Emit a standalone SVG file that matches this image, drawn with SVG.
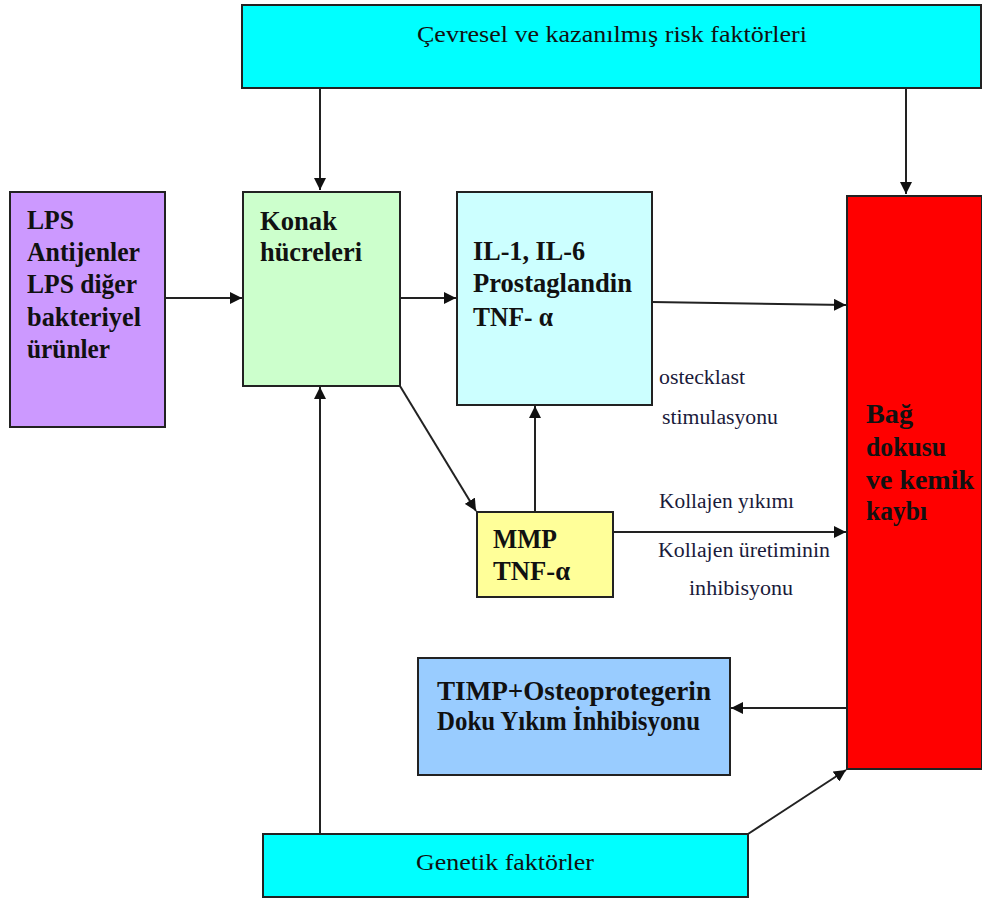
<svg xmlns="http://www.w3.org/2000/svg" width="982" height="899" viewBox="0 0 982 899">
<style>
.box{stroke:#222;stroke-width:2}
.b{font-family:"Liberation Serif","Times New Roman",serif;font-weight:bold;font-size:28px;fill:#111}
.n{font-family:"Liberation Serif","Times New Roman",serif;font-size:24px;fill:#111}
.s{font-family:"Liberation Serif","Times New Roman",serif;font-size:20px;fill:#1a1a3a}
.c{stroke:#222;stroke-width:2;fill:none}
</style>
<defs>
<marker id="ah" markerUnits="userSpaceOnUse" markerWidth="13" markerHeight="12" refX="12" refY="6" orient="auto">
<path d="M0,0 L12,6 L0,12 z" fill="#111"/>
</marker>
</defs>
<rect width="982" height="899" fill="#fff"/>

<g id="connectors">
<line class="c" x1="320" y1="88" x2="320" y2="190" marker-end="url(#ah)"/>
<line class="c" x1="906" y1="88" x2="906" y2="194" marker-end="url(#ah)"/>
<line class="c" x1="165" y1="298" x2="242" y2="298" marker-end="url(#ah)"/>
<line class="c" x1="400" y1="298" x2="456" y2="298" marker-end="url(#ah)"/>
<line class="c" x1="652" y1="302" x2="846" y2="305" marker-end="url(#ah)"/>
<line class="c" x1="400" y1="386" x2="476" y2="511" marker-end="url(#ah)"/>
<line class="c" x1="535" y1="512" x2="535" y2="406" marker-end="url(#ah)"/>
<line class="c" x1="613" y1="532" x2="846" y2="532" marker-end="url(#ah)"/>
<line class="c" x1="846" y1="708" x2="731" y2="708" marker-end="url(#ah)"/>
<line class="c" x1="320" y1="834" x2="320" y2="387" marker-end="url(#ah)"/>
<line class="c" x1="748" y1="834" x2="846" y2="770" marker-end="url(#ah)"/>
</g>

<g id="cevresel">
<rect class="box" x="242" y="5" width="739" height="83" fill="#00FFFF"/>
<text class="n" x="612" y="42" text-anchor="middle" textLength="390" lengthAdjust="spacingAndGlyphs">Çevresel ve kazanılmış risk faktörleri</text>
</g>

<g id="lps">
<rect class="box" x="10" y="192" width="155" height="235" fill="#CC99FF"/>
<text class="b" x="27" y="229" textLength="47" lengthAdjust="spacingAndGlyphs">LPS</text>
<text class="b" x="27" y="261" textLength="113" lengthAdjust="spacingAndGlyphs">Antijenler</text>
<text class="b" x="27" y="293" textLength="110" lengthAdjust="spacingAndGlyphs">LPS diğer</text>
<text class="b" x="27" y="326" textLength="114" lengthAdjust="spacingAndGlyphs">bakteriyel</text>
<text class="b" x="27" y="358" textLength="83" lengthAdjust="spacingAndGlyphs">ürünler</text>
</g>

<g id="konak">
<rect class="box" x="243" y="192" width="157" height="194" fill="#CCFFCC"/>
<text class="b" x="260" y="230" textLength="77" lengthAdjust="spacingAndGlyphs">Konak</text>
<text class="b" x="260" y="261" textLength="102" lengthAdjust="spacingAndGlyphs">hücreleri</text>
</g>

<g id="il">
<rect class="box" x="457" y="192" width="195" height="213" fill="#CCFFFF"/>
<text class="b" x="473" y="260" textLength="112" lengthAdjust="spacingAndGlyphs">IL-1, IL-6</text>
<text class="b" x="473" y="292" textLength="159" lengthAdjust="spacingAndGlyphs">Prostaglandin</text>
<text class="b" x="473" y="326" textLength="80" lengthAdjust="spacingAndGlyphs">TNF- α</text>
</g>

<g id="mmp">
<rect class="box" x="477" y="512" width="136" height="85" fill="#FFFF99"/>
<text class="b" x="493" y="548" textLength="64" lengthAdjust="spacingAndGlyphs">MMP</text>
<text class="b" x="493" y="580" textLength="77" lengthAdjust="spacingAndGlyphs">TNF-α</text>
</g>

<g id="bag">
<rect class="box" x="847" y="196" width="135" height="573" fill="#FF0000"/>
<text class="b" x="866" y="423" textLength="47" lengthAdjust="spacingAndGlyphs">Bağ</text>
<text class="b" x="866" y="456" textLength="80" lengthAdjust="spacingAndGlyphs">dokusu</text>
<text class="b" x="866" y="489" textLength="108" lengthAdjust="spacingAndGlyphs">ve kemik</text>
<text class="b" x="866" y="520" textLength="61" lengthAdjust="spacingAndGlyphs">kaybı</text>
</g>

<g id="timp">
<rect class="box" x="418" y="658" width="312" height="117" fill="#99CCFF"/>
<text class="b" x="437" y="700" textLength="274" lengthAdjust="spacingAndGlyphs">TIMP+Osteoprotegerin</text>
<text class="b" x="437" y="730" textLength="263" lengthAdjust="spacingAndGlyphs">Doku Yıkım İnhibisyonu</text>
</g>

<g id="genetik">
<rect class="box" x="263" y="834" width="485" height="63" fill="#00FFFF"/>
<text class="n" x="505" y="870" text-anchor="middle" textLength="178" lengthAdjust="spacingAndGlyphs">Genetik faktörler</text>
</g>

<g id="labels">
<text class="s" x="659" y="384" textLength="86" lengthAdjust="spacingAndGlyphs">ostecklast</text>
<text class="s" x="662" y="424" textLength="116" lengthAdjust="spacingAndGlyphs">stimulasyonu</text>
<text class="s" x="659" y="508" textLength="135" lengthAdjust="spacingAndGlyphs">Kollajen yıkımı</text>
<text class="s" x="658" y="557" textLength="172" lengthAdjust="spacingAndGlyphs">Kollajen üretiminin</text>
<text class="s" x="689" y="595" textLength="104" lengthAdjust="spacingAndGlyphs">inhibisyonu</text>
</g>
</svg>
